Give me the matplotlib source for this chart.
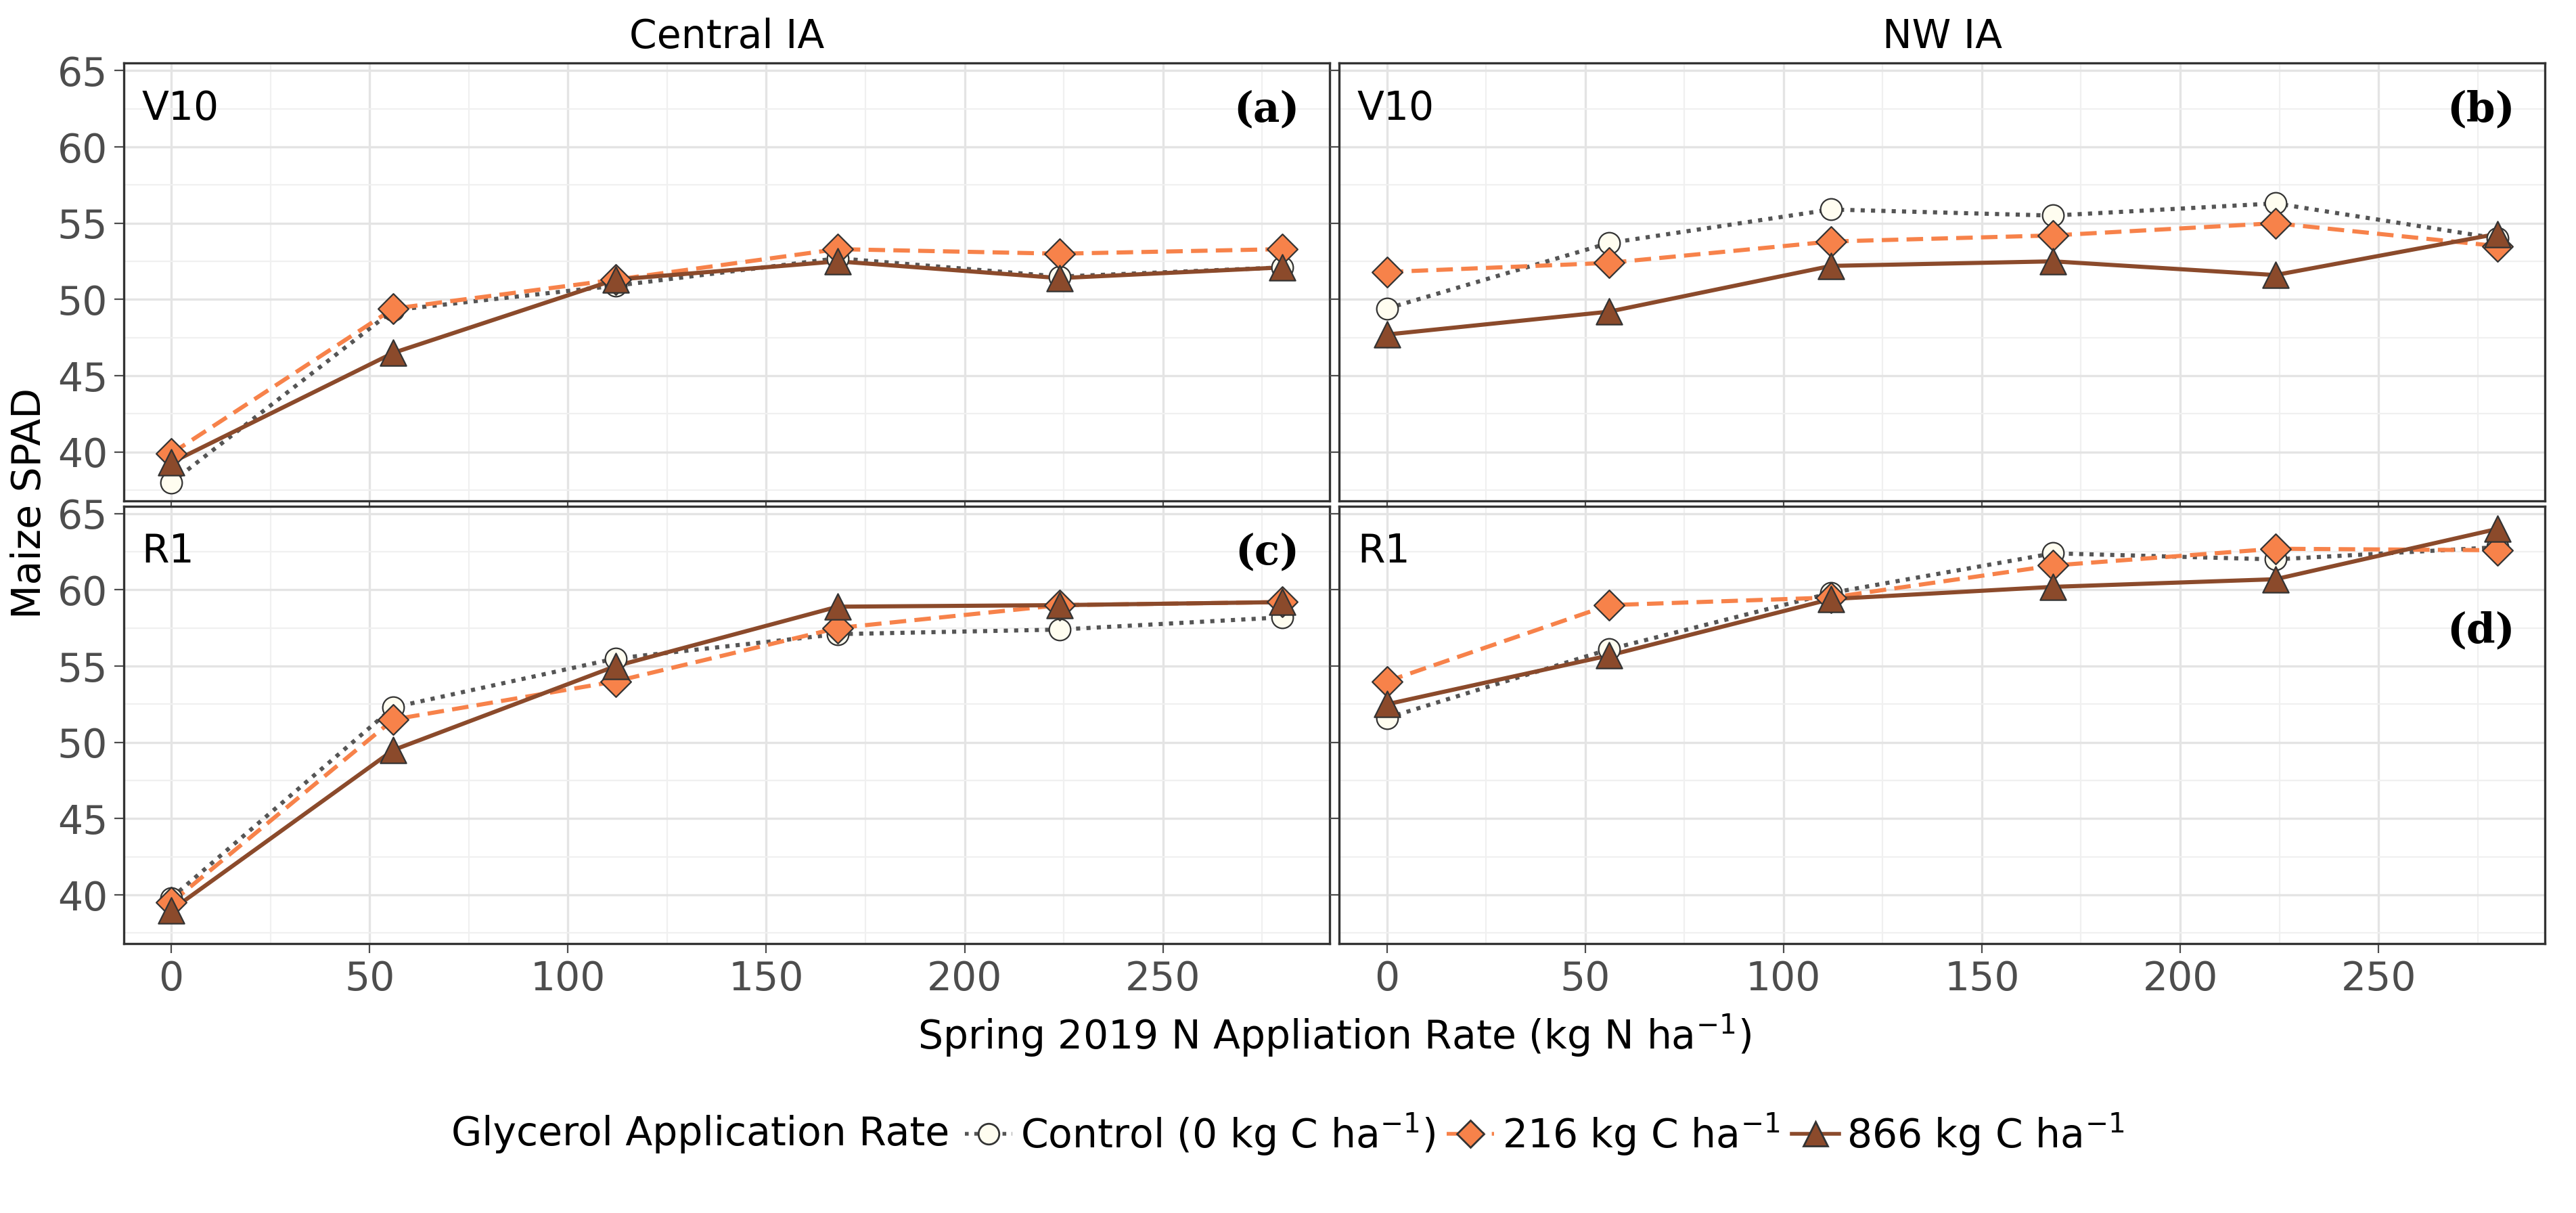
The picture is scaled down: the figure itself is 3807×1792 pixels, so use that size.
import numpy as np
import matplotlib.pyplot as plt
from matplotlib.lines import Line2D
from matplotlib.offsetbox import HPacker

x = [0, 56, 112, 168, 224, 280]

# panel (a) Central IA, V10
a_ctrl = [38.0, 49.3, 50.9, 52.7, 51.5, 52.1]
a_216 = [39.9, 49.4, 51.3, 53.3, 53.0, 53.3]
a_866 = [39.3, 46.5, 51.3, 52.5, 51.4, 52.1]
# panel (b) NW IA, V10
b_ctrl = [49.4, 53.7, 55.9, 55.5, 56.3, 54.0]
b_216 = [51.8, 52.4, 53.8, 54.2, 55.0, 53.5]
b_866 = [47.7, 49.2, 52.2, 52.5, 51.6, 54.3]
# panel (c) Central IA, R1
c_ctrl = [39.8, 52.3, 55.5, 57.1, 57.4, 58.2]
c_216 = [39.5, 51.5, 54.0, 57.5, 59.0, 59.2]
c_866 = [39.0, 49.5, 55.0, 58.9, 59.0, 59.2]
# panel (d) NW IA, R1
d_ctrl = [51.6, 56.1, 59.8, 62.4, 62.0, 62.8]
d_216 = [54.0, 59.0, 59.5, 61.6, 62.7, 62.6]
d_866 = [52.5, 55.7, 59.4, 60.2, 60.7, 64.0]

panels = [
    (a_ctrl, a_216, a_866, "V10", "(a)", 0.94),
    (b_ctrl, b_216, b_866, "V10", "(b)", 0.94),
    (c_ctrl, c_216, c_866, "R1", "(c)", 0.94),
    (d_ctrl, d_216, d_866, "R1", "(d)", 0.76),
]
col_titles = ["Central IA", "NW IA"]

c_orange = "#f7824a"
c_brown = "#8b4a2b"

fig, axes = plt.subplots(2, 2, figsize=(19.035, 8.96), dpi=200, sharex=True, sharey=True)
fig.subplots_adjust(left=0.048, right=0.988, top=0.948, bottom=0.222, wspace=0.008, hspace=0.012)

for ax, (ctrl, r216, r866, stage, lab, ly) in zip(axes.flat, panels):
    ax.plot(x, ctrl, color="#555555", ls=(0, (1, 1.5)), lw=2.2, zorder=2)
    ax.plot(x, r216, color=c_orange, ls=(0, (4, 2)), lw=2.2, zorder=2)
    ax.plot(x, r866, color=c_brown, ls="-", lw=2.2, zorder=2)
    ax.scatter(x, ctrl, s=130, marker="o", facecolor="#fffdf0", edgecolor="#333333", lw=0.8, zorder=3)
    ax.scatter(x, r216, s=130, marker="D", facecolor=c_orange, edgecolor="#333333", lw=0.8, zorder=4)
    ax.scatter(x, r866, s=190, marker="^", facecolor=c_brown, edgecolor="#333333", lw=0.8, zorder=5)
    ax.set_xlim(-12, 292)
    ax.set_ylim(36.8, 65.5)
    ax.set_xticks([0, 50, 100, 150, 200, 250])
    ax.set_yticks([40, 45, 50, 55, 60, 65])
    ax.set_xticks([25, 75, 125, 175, 225, 275], minor=True)
    ax.set_yticks([37.5, 42.5, 47.5, 52.5, 57.5, 62.5], minor=True)
    ax.grid(True, which="major", color="#e4e4e4", lw=1.2)
    ax.grid(True, which="minor", color="#f0f0f0", lw=0.8)
    ax.set_axisbelow(True)
    ax.tick_params(which="minor", length=0)
    ax.tick_params(which="major", labelsize=21, colors="#4d4d4d", length=5)
    for s in ax.spines.values():
        s.set_color("#333333")
        s.set_linewidth(1.2)
    ax.text(0.015, 0.94, stage, transform=ax.transAxes, fontsize=21, va="top", ha="left")
    ax.text(0.975, ly, lab, transform=ax.transAxes, fontsize=22, va="top", ha="right",
            family="DejaVu Serif", fontweight="bold")

for ax, t in zip(axes[0], col_titles):
    ax.set_title(t, fontsize=21, pad=8)

fig.text(0.004, 0.585, "Maize SPAD", rotation=90, fontsize=21, va="center")
fig.text(0.518, 0.135, "Spring 2019 N Appliation Rate (kg N ha$^{-1}$)", fontsize=21, ha="center")

handles = [
    Line2D([], [], color="#555555", ls=(0, (1, 1.5)), lw=2, marker="o", markersize=11,
           markerfacecolor="#fffdf0", markeredgecolor="#333333"),
    Line2D([], [], color=c_orange, ls=(0, (4, 2)), lw=2, marker="D", markersize=10,
           markerfacecolor=c_orange, markeredgecolor="#333333"),
    Line2D([], [], color=c_brown, lw=2, marker="^", markersize=13,
           markerfacecolor=c_brown, markeredgecolor="#333333"),
]
labels = ["Control (0 kg C ha$^{-1}$)", "216 kg C ha$^{-1}$", "866 kg C ha$^{-1}$"]
leg = fig.legend(handles, labels, loc="center", bbox_to_anchor=(0.5, 0.065), ncol=3, frameon=False,
                 fontsize=21, title="Glycerol Application Rate", handlelength=1.2, columnspacing=0.3,
                 handletextpad=0.2)
leg.get_title().set_fontsize(21)
# put title inline with entries
box = leg._legend_box
box._children = [HPacker(children=box.get_children(), align="center", pad=0, sep=8)]

fig.savefig("out.png", dpi=200)
